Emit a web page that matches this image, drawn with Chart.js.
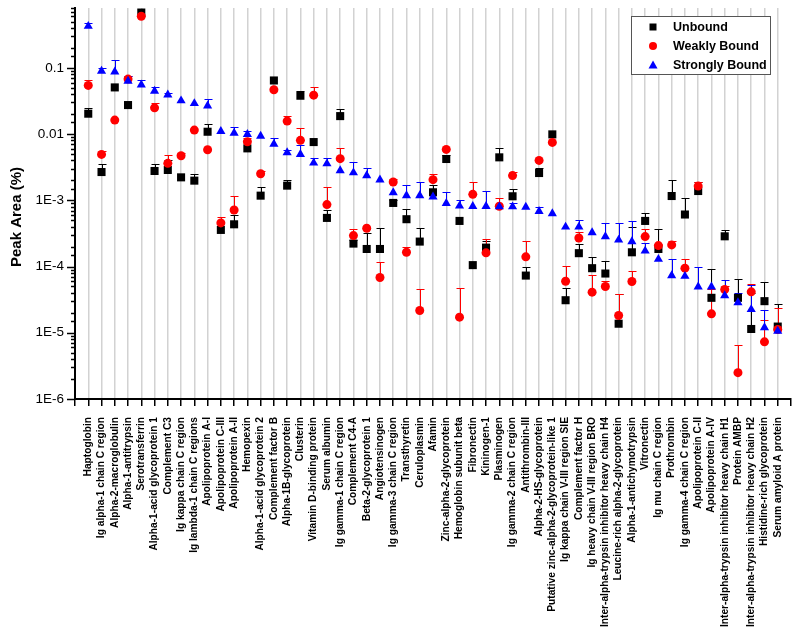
<!DOCTYPE html>
<html lang="en">
<head>
<meta charset="UTF-8">
<title>Peak Area</title>
<style>
  html, body { margin: 0; padding: 0; background: #fff; }
  #wrap { width: 800px; height: 635px; }
</style>
</head>
<body>
<div id="wrap"><canvas id="myChart" width="800" height="635"></canvas></div>
<script src="https://cdn.jsdelivr.net/npm/chart.js"></script>
<script>
const proteins = ['Haptoglobin', 'Ig alpha-1 chain C region', 'Alpha-2-macroglobulin', 'Alpha-1-antitrypsin',
  'Serotransferrin', 'Alpha-1-acid glycoprotein 1', 'Complement C3', 'Ig kappa chain C region',
  'Ig lambda-1 chain C regions', 'Apolipoprotein A-I', 'Apolipoprotein C-III', 'Apolipoprotein A-II',
  'Hemopexin', 'Alpha-1-acid glycoprotein 2', 'Complement factor B', 'Alpha-1B-glycoprotein', 'Clusterin',
  'Vitamin D-binding protein', 'Serum albumin', 'Ig gamma-1 chain C region', 'Complement C4-A',
  'Beta-2-glycoprotein 1', 'Angiotensinogen', 'Ig gamma-3 chain C region', 'Transthyretin', 'Ceruloplasmin',
  'Afamin', 'Zinc-alpha-2-glycoprotein', 'Hemoglobin subunit beta', 'Fibronectin', 'Kininogen-1',
  'Plasminogen', 'Ig gamma-2 chain C region', 'Antithrombin-III', 'Alpha-2-HS-glycoprotein',
  'Putative zinc-alpha-2-glycoprotein-like 1', 'Ig kappa chain V-III region SIE', 'Complement factor H',
  'Ig heavy chain V-III region BRO', 'Inter-alpha-trypsin inhibitor heavy chain H4',
  'Leucine-rich alpha-2-glycoprotein', 'Alpha-1-antichymotrypsin', 'Vitronectin', 'Ig mu chain C region',
  'Prothrombin', 'Ig gamma-4 chain C region', 'Apolipoprotein C-II', 'Apolipoprotein A-IV',
  'Inter-alpha-trypsin inhibitor heavy chain H1', 'Protein AMBP', 'Inter-alpha-trypsin inhibitor heavy chain H2',
  'Histidine-rich glycoprotein', 'Serum amyloid A protein'];

// mean peak area (%) and upper end of the error bar, per fraction
const unbound = [0.0203, 0.00267, 0.0506, 0.0274, 0.683, 0.00277, 0.00287, 0.00222, 0.00198, 0.01084,
  0.000357, 0.000434, 0.00608, 0.001175, 0.0644, 0.001664, 0.0379, 0.00757, 0.000542, 0.01866,
  0.000222, 0.000184, 0.000184, 0.000912, 0.000518, 0.000238, 0.00132, 0.0042, 0.000488, 0.000105,
  0.000193, 0.00445, 0.00115, 0.000073, 0.00258, 0.00989, 0.000031, 0.000159, 0.0000944, 0.0000784,
  0.0000137, 0.000164, 0.000488, 0.000184, 0.00116, 0.00061, 0.00138, 0.0000337, 0.000286, 0.0000337,
  0.0000114, 0.00003, 0.0000124];
const unboundErr = [0.0249, 0.00357, null, null, null, 0.00349, 0.00401, null, 0.00247, 0.014,
  null, 0.0006, null, 0.00161, null, 0.002, 0.044, null, 0.00071, 0.0241,
  0.00025, 0.00032, 0.000387, 0.00101, 0.00073, 0.00038, 0.0017, 0.0048, null, null,
  0.00024, 0.0061, 0.0015, 0.0001, 0.0031, null, 0.000047, 0.00022, 0.00014, 0.00012,
  0.000038, 0.00039, 0.00065, 0.00037, 0.002, 0.0011, 0.0019, 0.000091, 0.00036, 0.000064,
  0.00004, 0.000058, 0.000027];

const weakly = [0.0542, 0.00493, 0.01625, 0.0675, 0.601, 0.0249, 0.00361, 0.00471, 0.01148, 0.0058,
  0.000455, 0.000714, 0.00766, 0.00252, 0.0466, 0.0157, 0.00804, 0.0387, 0.000861, 0.00425,
  0.000293, 0.000378, 0.0000682, 0.00189, 0.000164, 0.0000217, 0.00205, 0.00587, 0.0000172, 0.00123,
  0.000161, 0.000813, 0.00236, 0.00014, 0.004, 0.00748, 0.00006, 0.00027, 0.000041, 0.0000499,
  0.0000182, 0.0000594, 0.000283, 0.000207, 0.000212, 0.0000944, 0.00164, 0.0000193, 0.000045, 0.0000025,
  0.0000415, 0.0000073, 0.0000112];
const weaklyErr = [0.0659, 0.00561, null, 0.074, null, 0.0293, 0.00488, 0.0051, null, null,
  0.000567, 0.001175, 0.0086, 0.0028, null, 0.0185, 0.0123, 0.0511, 0.00161, 0.0062,
  0.00037, null, 0.000116, 0.0021, 0.0002, 0.0000455, 0.0025, null, 0.000047, 0.0019,
  0.00026, 0.0011, 0.0027, 0.00024, null, null, 0.000103, 0.00033, 0.000075, 0.00006,
  0.000038, 0.000087, 0.00037, 0.00022, 0.00024, 0.00013, 0.0019, 0.000045, 0.000051, 0.0000065,
  0.000055, 0.0000155, 0.000024];

const strongly = [0.425, 0.089, 0.087, 0.063, 0.0555, 0.0445, 0.0392, 0.0319, 0.029, 0.0267,
  0.011, 0.01035, 0.00989, 0.00933, 0.00706, 0.00524, 0.00493, 0.00366, 0.00357, 0.0028,
  0.00261, 0.00236, 0.00203, 0.001306, 0.001175, 0.001175, 0.00113, 0.0009, 0.000822, 0.000813,
  0.000813, 0.0008, 0.0008, 0.00079, 0.00068, 0.00063, 0.000396, 0.000396, 0.000326, 0.000283,
  0.000252, 0.000238, 0.000172, 0.000129, 0.000073, 0.0000714, 0.0000493, 0.0000493, 0.0000365, 0.0000286,
  0.0000225, 0.000012, 0.0000106];
const stronglyErr = [0.482, 0.1, 0.132, 0.074, 0.066, 0.052, 0.042, null, null, 0.0333,
  null, 0.0129, 0.011, null, 0.0086, 0.0058, 0.00675, 0.0044, 0.0044, null,
  0.0038, 0.0031, null, null, 0.0017, 0.0019, null, 0.00132, 0.001, null,
  0.0014, null, 0.0009, null, 0.0008, null, null, 0.0005, null, 0.00046,
  0.00046, 0.00049, 0.00023, null, 0.00013, null, 0.0001, null, 0.000063, 0.00004,
  0.000052, 0.000022, null];

const yTickValues = [1e-6, 1e-5, 1e-4, 1e-3, 0.01, 0.1];
const yTickLabels = ['1E-6', '1E-5', '1E-4', '1E-3', '0.01', '0.1'];

function toPoints(arr) {
  return arr.map((v, i) => ({x: i, y: v}));
}

// vertical up-only error bars with a cap
const errorBars = {
  id: 'errorBars',
  beforeDatasetsDraw(chart) {
    const ctx = chart.ctx;
    const ys = chart.scales.y;
    chart.data.datasets.forEach((ds, di) => {
      const meta = chart.getDatasetMeta(di);
      ctx.save();
      ctx.strokeStyle = ds.borderColor;
      ctx.lineWidth = 1;
      ds.errors.forEach((e, i) => {
        if (e == null) return;
        const pt = meta.data[i];
        const top = Math.round(ys.getPixelForValue(e)) + 0.5;
        const x = Math.round(pt.x) + 0.5;
        ctx.beginPath();
        ctx.moveTo(x, pt.y);
        ctx.lineTo(x, top);
        ctx.moveTo(x - 4, top);
        ctx.lineTo(x + 4, top);
        ctx.stroke();
      });
      ctx.restore();
    });
  }
};

// y tick marks (long for decades, short otherwise), axis title and boxed legend
const decor = {
  id: 'decor',
  afterDraw(chart) {
    const ctx = chart.ctx;
    const ys = chart.scales.y;
    const left = chart.chartArea.left;
    ctx.save();
    ctx.strokeStyle = '#000';
    ctx.lineWidth = 1.5;
    ys.ticks.forEach(t => {
      const lg = Math.log10(t.value);
      const major = Math.abs(lg - Math.round(lg)) < 1e-6;
      const y = Math.round(ys.getPixelForValue(t.value)) + 0.5;
      ctx.beginPath();
      ctx.moveTo(left - (major ? 8 : 4), y);
      ctx.lineTo(left, y);
      ctx.stroke();
    });

    ctx.translate(17, 217);
    ctx.rotate(-Math.PI / 2);
    ctx.fillStyle = '#000';
    ctx.font = 'bold 15px "Liberation Sans", Arial, sans-serif';
    ctx.textAlign = 'center';
    ctx.textBaseline = 'middle';
    ctx.fillText('Peak Area (%)', 0, 0);
    ctx.restore();

    ctx.save();
    ctx.fillStyle = '#fff';
    ctx.fillRect(631, 16, 140, 59);
    ctx.strokeStyle = '#555';
    ctx.lineWidth = 1;
    ctx.strokeRect(631.5, 16.5, 139, 58);
    const items = chart.data.datasets.slice().sort((a, b) => b.order - a.order);
    items.forEach((ds, k) => {
      const y = 27 + k * 19;
      ctx.fillStyle = ds.backgroundColor;
      ctx.beginPath();
      if (ds.pointStyle === 'rect') {
        ctx.rect(649.5, y - 3.5, 7, 7);
      } else if (ds.pointStyle === 'circle') {
        ctx.arc(653, y, 4, 0, Math.PI * 2);
      } else {
        ctx.moveTo(653, y - 4.5);
        ctx.lineTo(657.5, y + 3.5);
        ctx.lineTo(648.5, y + 3.5);
        ctx.closePath();
      }
      ctx.fill();
      ctx.fillStyle = '#000';
      ctx.font = 'bold 12.5px "Liberation Sans", Arial, sans-serif';
      ctx.textAlign = 'left';
      ctx.textBaseline = 'middle';
      ctx.fillText(ds.label, 673, y + 1);
    });
    ctx.restore();
  }
};

const ctx = document.getElementById('myChart');
const configs = {
  type: 'scatter',
  data: {
    datasets: [
      {label: 'Unbound', data: toPoints(unbound), errors: unboundErr, order: 3,
        pointStyle: 'rect', pointRadius: 5.7, backgroundColor: '#000000', borderColor: '#000000', borderWidth: 0},
      {label: 'Weakly Bound', data: toPoints(weakly), errors: weaklyErr, order: 2,
        pointStyle: 'circle', pointRadius: 4.5, backgroundColor: '#ff0000', borderColor: '#ff0000', borderWidth: 0},
      {label: 'Strongly Bound', data: toPoints(strongly), errors: stronglyErr, order: 1,
        pointStyle: 'triangle', pointRadius: 5.3, backgroundColor: '#0000ff', borderColor: '#0000ff', borderWidth: 0}
    ]
  },
  options: {
    responsive: false,
    animation: false,
    layout: {padding: {top: 8, right: 9, bottom: 0, left: 0}},
    plugins: {legend: {display: false}, tooltip: {enabled: false}},
    scales: {
      x: {
        type: 'linear',
        min: -1,
        max: 53,
        afterFit(scale) {
          scale.height = 236;
          scale.paddingLeft = 0;
          scale.paddingRight = 0;
        },
        border: {color: '#000', width: 2},
        grid: {
          color: c => (c.tick && c.tick.value >= 0 && c.tick.value <= 52) ? '#d2d2d2' : 'rgba(0,0,0,0)',
          lineWidth: 1.5,
          tickColor: '#000',
          tickLength: 7,
          tickWidth: 1.5
        },
        ticks: {
          stepSize: 1,
          maxTicksLimit: 100,
          autoSkip: false,
          minRotation: 90,
          maxRotation: 90,
          padding: 11,
          color: '#000',
          font: {family: '"Liberation Sans", Arial, sans-serif', size: 10.2, weight: 'bold'},
          callback: v => (Number.isInteger(v) && v >= 0 && v < proteins.length) ? proteins[v] : ''
        }
      },
      y: {
        type: 'logarithmic',
        min: 1e-6,
        max: 0.8,
        afterFit(scale) {
          scale.width = 75;
          scale.paddingTop = 0;
          scale.paddingBottom = 0;
        },
        border: {color: '#000', width: 2},
        grid: {display: true, drawOnChartArea: false, drawTicks: false},
        ticks: {
          autoSkip: false,
          padding: 11,
          color: '#000',
          font: {family: '"Liberation Sans", Arial, sans-serif', size: 13.5},
          callback: v => {
            const k = yTickValues.findIndex(t => Math.abs(t - v) / t < 1e-6);
            return k >= 0 ? yTickLabels[k] : '';
          }
        }
      }
    }
  },
  plugins: [errorBars, decor]
};

let myChart = new Chart(ctx, configs);
</script>
</body>
</html>
